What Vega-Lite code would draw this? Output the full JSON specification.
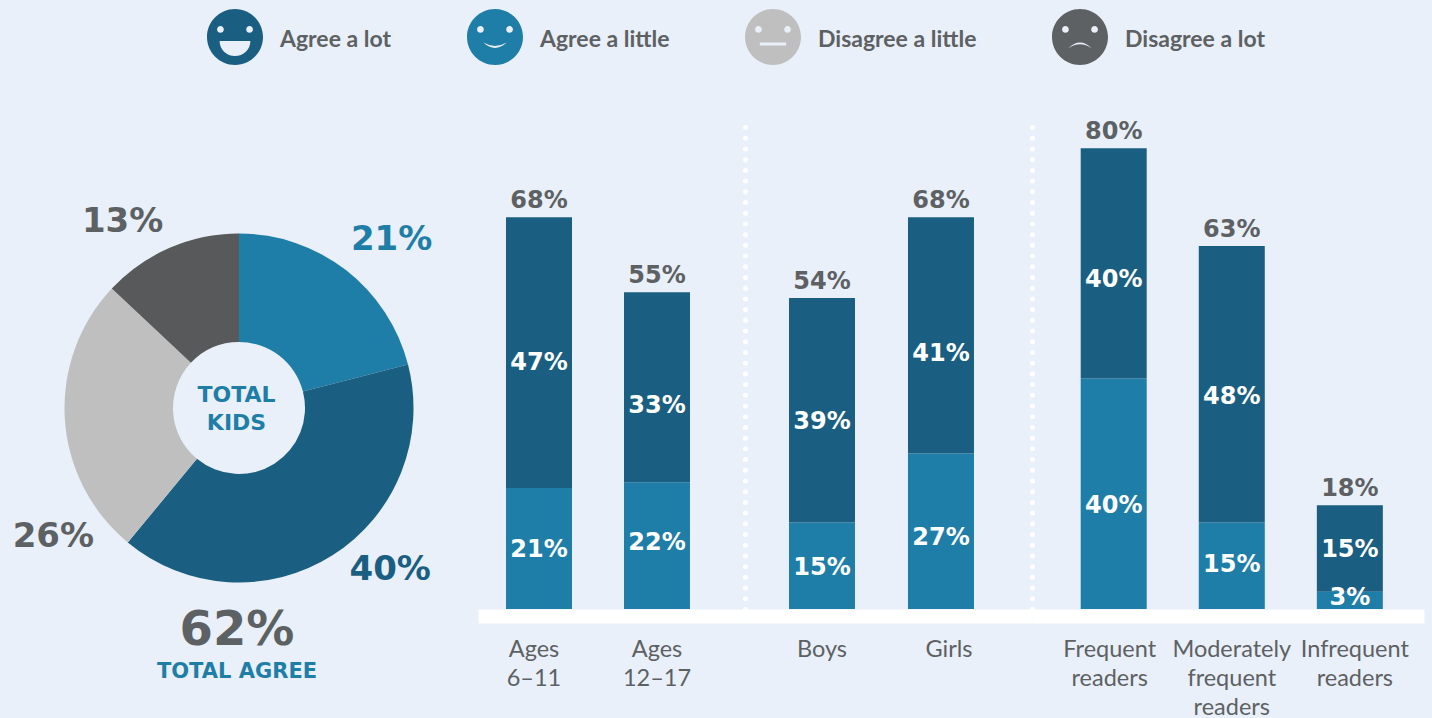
{
"$schema":"https://vega.github.io/schema/vega-lite/v6.json",
"background":"#e9f0f9",
"padding":{"left":0,"top":0,"right":8,"bottom":0},
"spacing":0,
"bounds":"flush",
"config":{"view":{"stroke":null},"axis":{"grid":false,"ticks":false,"title":null},"text":{"font":"DejaVu Sans"}},
"datasets":{
"pie":[
{"who":"Agree a little","value":21,"slice":1,"label":"21%"},
{"who":"Agree a lot","value":40,"slice":2,"label":"40%"},
{"who":"Disagree a little","value":26,"slice":3,"label":"26%"},
{"who":"Disagree a lot","value":13,"slice":4,"label":"13%"}],
"bars":[
{"set":"age","group":"Ages 6–11","who":"Agree a little","value":21},
{"set":"age","group":"Ages 6–11","who":"Agree a lot","value":47},
{"set":"age","group":"Ages 12–17","who":"Agree a little","value":22},
{"set":"age","group":"Ages 12–17","who":"Agree a lot","value":33},
{"set":"gender","group":"Boys","who":"Agree a little","value":15},
{"set":"gender","group":"Boys","who":"Agree a lot","value":39},
{"set":"gender","group":"Girls","who":"Agree a little","value":27},
{"set":"gender","group":"Girls","who":"Agree a lot","value":41},
{"set":"reading","group":"Frequent readers","who":"Agree a little","value":40},
{"set":"reading","group":"Frequent readers","who":"Agree a lot","value":40},
{"set":"reading","group":"Moderately frequent readers","who":"Agree a little","value":15},
{"set":"reading","group":"Moderately frequent readers","who":"Agree a lot","value":48},
{"set":"reading","group":"Infrequent readers","who":"Agree a little","value":3},
{"set":"reading","group":"Infrequent readers","who":"Agree a lot","value":15}]
},
"vconcat":[
{"width":1424,"height":127,"data":{"name":"pie"},"mark":{"type":"point","filled":true,"size":0},
"encoding":{
"shape":{"field":"who","type":"nominal","legend":{"title":null,"orient":"none","legendX":207,"legendY":9,"columns":4,"gridAlign":"none","columnPadding":75,"symbolSize":3136,"symbolStrokeWidth":0,"symbolOpacity":1,"labelFontSize":23,"labelFont":"Lato","labelFontWeight":700,"labelColor":"#5d6163","labelOffset":17,"labelLimit":300,
"encoding":{"symbols":{"fill":{"value":{"signal":"{'Agree a lot':'#1a5f82','Agree a little':'#1f7ea8','Disagree a little':'#bfbfbf','Disagree a lot':'#5d6163'}[datum.value]"}}},"labels":{"dy":{"value":3}}}},
"scale":{"domain":["Agree a lot","Agree a little","Disagree a little","Disagree a lot"],"range":[
"M-1,0A1,1 0 1,1 1,0A1,1 0 1,1 -1,0ZM-0.4,-0.27A0.12,0.12 0 1,0 -0.64,-0.27A0.12,0.12 0 1,0 -0.4,-0.27ZM0.64,-0.27A0.12,0.12 0 1,0 0.4,-0.27A0.12,0.12 0 1,0 0.64,-0.27ZM-0.55,0.14A0.55,0.54 0 0,0 0.55,0.14Z",
"M-1,0A1,1 0 1,1 1,0A1,1 0 1,1 -1,0ZM-0.4,-0.27A0.12,0.12 0 1,0 -0.64,-0.27A0.12,0.12 0 1,0 -0.4,-0.27ZM0.64,-0.27A0.12,0.12 0 1,0 0.4,-0.27A0.12,0.12 0 1,0 0.64,-0.27ZM-0.42,0.2Q0,0.58 0.42,0.2Q0,0.44 -0.42,0.2Z",
"M-1,0A1,1 0 1,1 1,0A1,1 0 1,1 -1,0ZM-0.4,-0.27A0.12,0.12 0 1,0 -0.64,-0.27A0.12,0.12 0 1,0 -0.4,-0.27ZM0.64,-0.27A0.12,0.12 0 1,0 0.4,-0.27A0.12,0.12 0 1,0 0.64,-0.27ZM-0.47,0.2L-0.47,0.3L0.47,0.3L0.47,0.2Z",
"M-1,0A1,1 0 1,1 1,0A1,1 0 1,1 -1,0ZM-0.4,-0.27A0.12,0.12 0 1,0 -0.64,-0.27A0.12,0.12 0 1,0 -0.4,-0.27ZM0.64,-0.27A0.12,0.12 0 1,0 0.4,-0.27A0.12,0.12 0 1,0 0.64,-0.27ZM0.42,0.4Q0,0 -0.42,0.4Q0,0.12 0.42,0.4Z"]}}}},
{"spacing":0,"bounds":"flush","hconcat":[
{"width":478,"height":562,"layer":[
{"data":{"name":"pie"},"mark":{"type":"arc","radius":174.5,"innerRadius":66},
"encoding":{"theta":{"field":"value","type":"quantitative","stack":true},"order":{"field":"slice"},
"color":{"field":"who","type":"nominal","legend":null,"scale":{"domain":["Agree a lot","Agree a little","Disagree a little","Disagree a lot"],"range":["#1a5f82","#1f7ea8","#bfbfbf","#58595b"]}}}},
{"data":{"name":"pie"},"mark":{"type":"text","radius":200,"fontSize":34,"fontWeight":"bold","baseline":"middle",
"dx":{"expr":"datum.slice==1?30:datum.slice==2?44:datum.slice==3?14:-37"},
"dy":{"expr":"datum.slice==1?-10:datum.slice==2?-7:datum.slice==3?116:-2"},
"fill":{"expr":"datum.slice==1?'#1f7ea8':datum.slice==2?'#1a5f82':'#5d6163'"}},
"encoding":{"theta":{"field":"value","type":"quantitative","stack":true},"order":{"field":"slice"},"text":{"field":"label"}}},
{"data":{"values":[{"t":"TOTAL\nKIDS"}]},"mark":{"type":"text","lineBreak":"\n","lineHeight":28,"fontSize":22,"fontWeight":"bold","fill":"#1f7ea8","dx":-2.5,"dy":-13,"baseline":"middle"},"encoding":{"text":{"field":"t"}}},
{"data":{"values":[{"t":"62%"}]},"mark":{"type":"text","fontSize":48,"fontWeight":"bold","fill":"#5d6163","dx":-2,"dy":223,"baseline":"middle"},"encoding":{"text":{"field":"t"}}},
{"data":{"values":[{"t":"TOTAL AGREE"}]},"mark":{"type":"text","fontSize":21,"fontWeight":"bold","fill":"#1f7ea8","dx":-2,"dy":264,"baseline":"middle"},"encoding":{"text":{"field":"t"}}}
]},
{"spacing":0,"bounds":"flush","hconcat":[
{"width":267,"height":482,"data":{"name":"bars"},
"transform":[{"filter":"datum.set=='age'"},{"stack":"value","groupby":["group"],"sort":[{"field":"who"}],"as":["v0","v1"]},{"calculate":"(datum.v0+datum.v1)/2","as":"vm"},{"calculate":"datum.value+'%'","as":"vt"},{"calculate":"datum.v1+'%'","as":"tt"}],
"encoding":{"x":{"field":"group","type":"nominal","scale":{"domain":["Ages 6–11","Ages 12–17"],"paddingInner":0,"paddingOuter":0.1314,"align":0.0645},
"axis":{"offset":7,"domainColor":"white","domainWidth":14,"labelAngle":0,"labelFont":"Lato","labelFontSize":23.5,"labelColor":"#5d6163","labelPadding":21,"labelExpr":"split(datum.label,' ')","labelLineHeight":29,"labelLimit":300,"labelOverlap":false,"labelBound":false,"encoding":{"labels":{"dx":{"value":{"signal":"datum.value=='Ages 6–11'?-5:0"}}}}}}},
"layer":[
{"mark":{"type":"bar","width":66},"encoding":{"y":{"field":"v0","type":"quantitative","scale":{"domain":[0,83.68],"nice":false},"axis":null},"y2":{"field":"v1"},"color":{"field":"who","type":"nominal","legend":null,"scale":{"domain":["Agree a lot","Agree a little"],"range":["#1a5f82","#1f7ea8"]}}}},
{"mark":{"type":"text","fontSize":24,"fontWeight":"bold","fill":"white","baseline":"middle","dy":{"expr":"datum.who=='Agree a lot'?{'Ages 6–11':10,'Ages 12–17':19}[datum.group]:{'Ages 6–11':1,'Ages 12–17':-3}[datum.group]"}},"encoding":{"y":{"field":"vm","type":"quantitative","scale":{"domain":[0,83.68],"nice":false},"axis":null},"text":{"field":"vt"}}},
{"transform":[{"filter":"datum.who=='Agree a lot'"}],"mark":{"type":"text","fontSize":24,"fontWeight":"bold","fill":"#5d6163","baseline":"middle","dy":-16},"encoding":{"y":{"field":"v1","type":"quantitative","scale":{"domain":[0,83.68],"nice":false},"axis":null},"text":{"field":"tt"}}}
]},
{"width":287,"height":482,"data":{"name":"bars"},
"transform":[{"filter":"datum.set=='gender'"},{"stack":"value","groupby":["group"],"sort":[{"field":"who"}],"as":["v0","v1"]},{"calculate":"(datum.v0+datum.v1)/2","as":"vm"},{"calculate":"datum.value+'%'","as":"vt"},{"calculate":"datum.v1+'%'","as":"tt"}],
"encoding":{"x":{"field":"group","type":"nominal","scale":{"domain":["Boys","Girls"],"paddingInner":0,"paddingOuter":0.206,"align":0.357},
"axis":{"offset":7,"domainColor":"white","domainWidth":14,"labelAngle":0,"labelFont":"Lato","labelFontSize":23.5,"labelColor":"#5d6163","labelPadding":21,"labelExpr":"split(datum.label,' ')","labelLineHeight":29,"labelLimit":300,"labelOverlap":false,"labelBound":false,"encoding":{"labels":{"dx":{"value":{"signal":"datum.value=='Girls'?8:0"}}}}}}},
"layer":[
{"mark":{"type":"bar","width":66},"encoding":{"y":{"field":"v0","type":"quantitative","scale":{"domain":[0,83.68],"nice":false},"axis":{"labels":false,"domainColor":"white","domainWidth":5,"domainDash":[0.01,10.7],"domainCap":"round","offset":0}},"y2":{"field":"v1"},"color":{"field":"who","type":"nominal","legend":null,"scale":{"domain":["Agree a lot","Agree a little"],"range":["#1a5f82","#1f7ea8"]}}}},
{"mark":{"type":"text","fontSize":24,"fontWeight":"bold","fill":"white","baseline":"middle","dy":{"expr":"datum.who=='Agree a lot'?{'Boys':12,'Girls':19}[datum.group]:{'Boys':2,'Girls':7}[datum.group]"}},"encoding":{"y":{"field":"vm","type":"quantitative"},"text":{"field":"vt"}}},
{"transform":[{"filter":"datum.who=='Agree a lot'"}],"mark":{"type":"text","fontSize":24,"fontWeight":"bold","fill":"#5d6163","baseline":"middle","dy":-16},"encoding":{"y":{"field":"v1","type":"quantitative"},"text":{"field":"tt"}}}
]},
{"width":392,"height":482,"data":{"name":"bars"},
"transform":[{"filter":"datum.set=='reading'"},{"stack":"value","groupby":["group"],"sort":[{"field":"who"}],"as":["v0","v1"]},{"calculate":"(datum.v0+datum.v1)/2","as":"vm"},{"calculate":"datum.value+'%'","as":"vt"},{"calculate":"datum.v1+'%'","as":"tt"}],
"encoding":{"x":{"field":"group","type":"nominal","scale":{"domain":["Frequent readers","Moderately frequent readers","Infrequent readers"],"paddingInner":0,"paddingOuter":0.16,"align":0.6},
"axis":{"offset":7,"domainColor":"white","domainWidth":14,"labelAngle":0,"labelFont":"Lato","labelFontSize":23.5,"labelColor":"#5d6163","labelPadding":21,"labelExpr":"split(datum.label,' ')","labelLineHeight":29,"labelLimit":300,"labelOverlap":false,"labelBound":false,"encoding":{"labels":{"dx":{"value":{"signal":"datum.value=='Frequent readers'?-4:datum.value=='Infrequent readers'?5:0"}}}}}}},
"layer":[
{"mark":{"type":"bar","width":66},"encoding":{"y":{"field":"v0","type":"quantitative","scale":{"domain":[0,83.68],"nice":false},"axis":{"labels":false,"domainColor":"white","domainWidth":5,"domainDash":[0.01,10.7],"domainCap":"round","offset":0}},"y2":{"field":"v1"},"color":{"field":"who","type":"nominal","legend":null,"scale":{"domain":["Agree a lot","Agree a little"],"range":["#1a5f82","#1f7ea8"]}}}},
{"mark":{"type":"text","fontSize":24,"fontWeight":"bold","fill":"white","baseline":"middle","dy":{"expr":"datum.who=='Agree a lot'?{'Frequent readers':17,'Moderately frequent readers':13,'Infrequent readers':1}[datum.group]:{'Frequent readers':12,'Moderately frequent readers':-1,'Infrequent readers':-2}[datum.group]"}},"encoding":{"y":{"field":"vm","type":"quantitative"},"text":{"field":"vt"}}},
{"transform":[{"filter":"datum.who=='Agree a lot'"}],"mark":{"type":"text","fontSize":24,"fontWeight":"bold","fill":"#5d6163","baseline":"middle","dy":-16},"encoding":{"y":{"field":"v1","type":"quantitative"},"text":{"field":"tt"}}}
]}
]}
]}
]}
